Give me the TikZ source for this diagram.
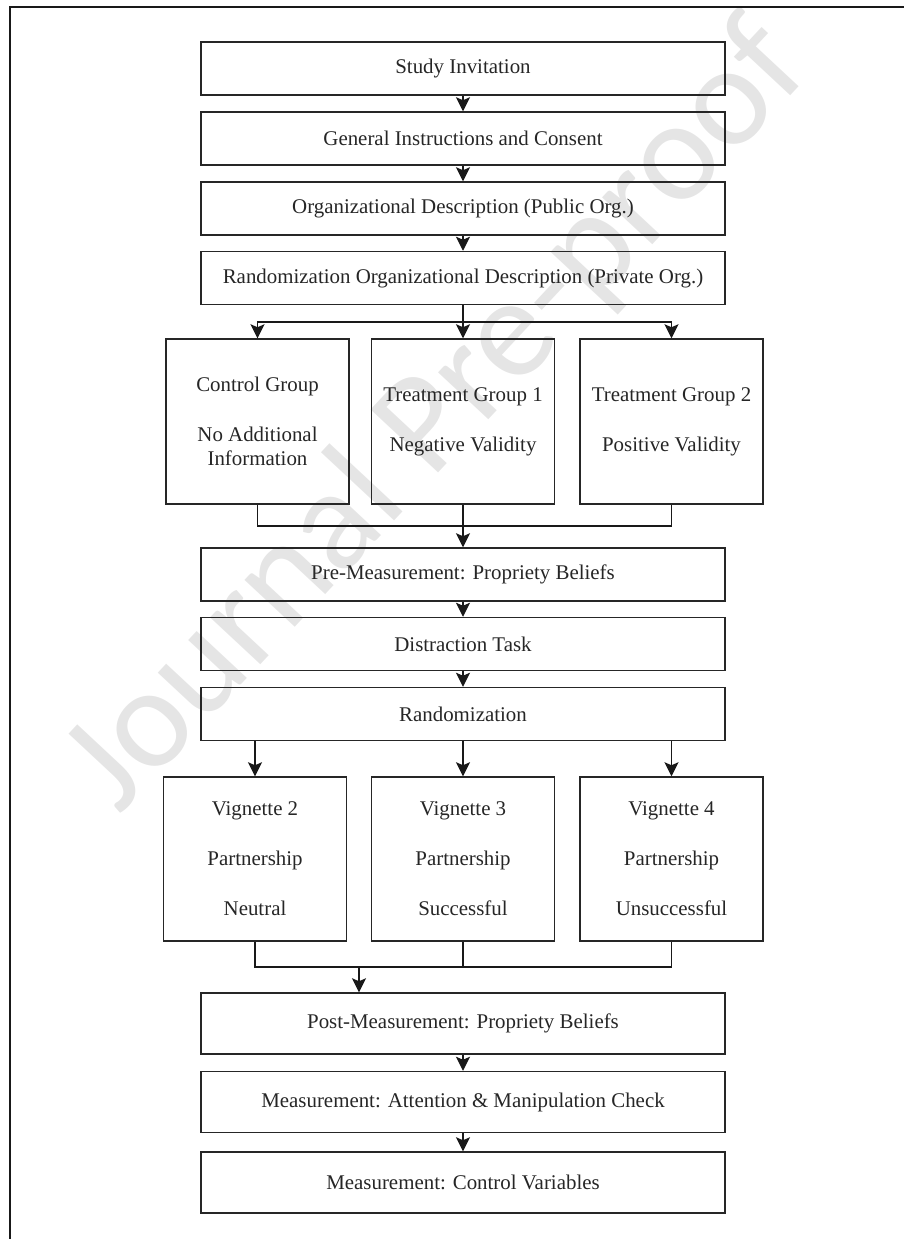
\documentclass[tikz,border=0pt]{standalone}
\usepackage{fontspec}
\setmainfont{Liberation Serif}
\newfontfamily\wmfont{Carlito}
\usetikzlibrary{arrows.meta}
\begin{document}
\begin{tikzpicture}[x=0.5pt,y=-0.5pt,
  box/.style={draw=black!85, line width=0.75pt, minimum width=262pt, minimum height=26.5pt,
    inner sep=0pt, align=center, text=black!85, font=\fontsize{10.45pt}{12pt}\selectfont},
  tall/.style={box, minimum height=30.5pt},
  grp/.style={box, minimum width=91.5pt, minimum height=82.5pt},
  vig/.style={box, minimum width=91.5pt, minimum height=82pt},
  arr/.style={line width=0.7pt, draw=black!90, -{Stealth[length=7pt,width=7pt,inset=1.5pt]}},
  conn/.style={line width=0.7pt, draw=black!90},
  frame/.style={line width=0.8pt, draw=black!90},
  wm/.style={text=black!10, font=\wmfont\fontsize{72pt}{72pt}\selectfont}]
\useasboundingbox (0,0) rectangle (904,1239);
% watermark
\node[wm, rotate=47] (wmark) at (438,418) {Journal Pre-proof};
% page frame (cropped)
\draw[frame] (10,1260) -- (10,7) -- (925,7);
% main column
\node[box] (b1) at (463,68.5) {Study Invitation};
\node[box] (b2) at (463,138.5) {General Instructions and Consent};
\node[box] (b3) at (463,208.5) {Organizational Description (Public Org.)};
\node[box] (b4) at (463,278) {Randomization Organizational Description (Private Org.)};
\node[grp] (g1) at (257.5,421.5) {Control Group\\[13pt]No Additional\\Information};
\node[grp] (g2) at (463,421.5) {Treatment Group 1\\[13pt]Negative Validity};
\node[grp] (g3) at (671.5,421.5) {Treatment Group 2\\[13pt]Positive Validity};
\node[box] (pre) at (463,574.5) {Pre-Measurement: Propriety Beliefs};
\node[box] (dis) at (463,644) {Distraction Task};
\node[box] (ran) at (463,714) {Randomization};
\node[vig] (v2) at (255,859) {Vignette 2\\[13pt]Partnership\\[13pt]Neutral};
\node[vig] (v3) at (463,859) {Vignette 3\\[13pt]Partnership\\[13pt]Successful};
\node[vig] (v4) at (671.5,859) {Vignette 4\\[13pt]Partnership\\[13pt]Unsuccessful};
\node[tall] (post) at (463,1023.5) {Post-Measurement: Propriety Beliefs};
\node[tall] (att) at (463,1102) {Measurement: Attention \& Manipulation Check};
\node[tall] (ctl) at (463,1182.5) {Measurement: Control Variables};
% connectors
\draw[arr] (b1) -- (b2);
\draw[arr] (b2) -- (b3);
\draw[arr] (b3) -- (b4);
\coordinate (s1) at (463,322);
\draw[arr] (b4.south) -- (g2.north);
\draw[arr] (s1) -| (g1.north);
\draw[arr] (s1) -| (g3.north);
\coordinate (m1) at (463,526);
\draw[conn] (g1.south) |- (m1);
\draw[conn] (g3.south) |- (m1);
\draw[arr] (g2.south) -- (pre.north);
\draw[arr] (pre) -- (dis);
\draw[arr] (dis) -- (ran);
\draw[arr] (ran.south -| v2.north) -- (v2.north);
\draw[arr] (ran.south) -- (v3.north);
\draw[arr] (ran.south -| v4.north) -- (v4.north);
\coordinate (m2) at (359,967);
\draw[conn] (v2.south) |- (v4.south |- m2) -- (v4.south);
\draw[conn] (v3.south) -- (v3.south |- m2);
\draw[arr] (m2) -- (m2 |- post.north);
\draw[arr] (post) -- (att);
\draw[arr] (att) -- (ctl);
\end{tikzpicture}
\end{document}
